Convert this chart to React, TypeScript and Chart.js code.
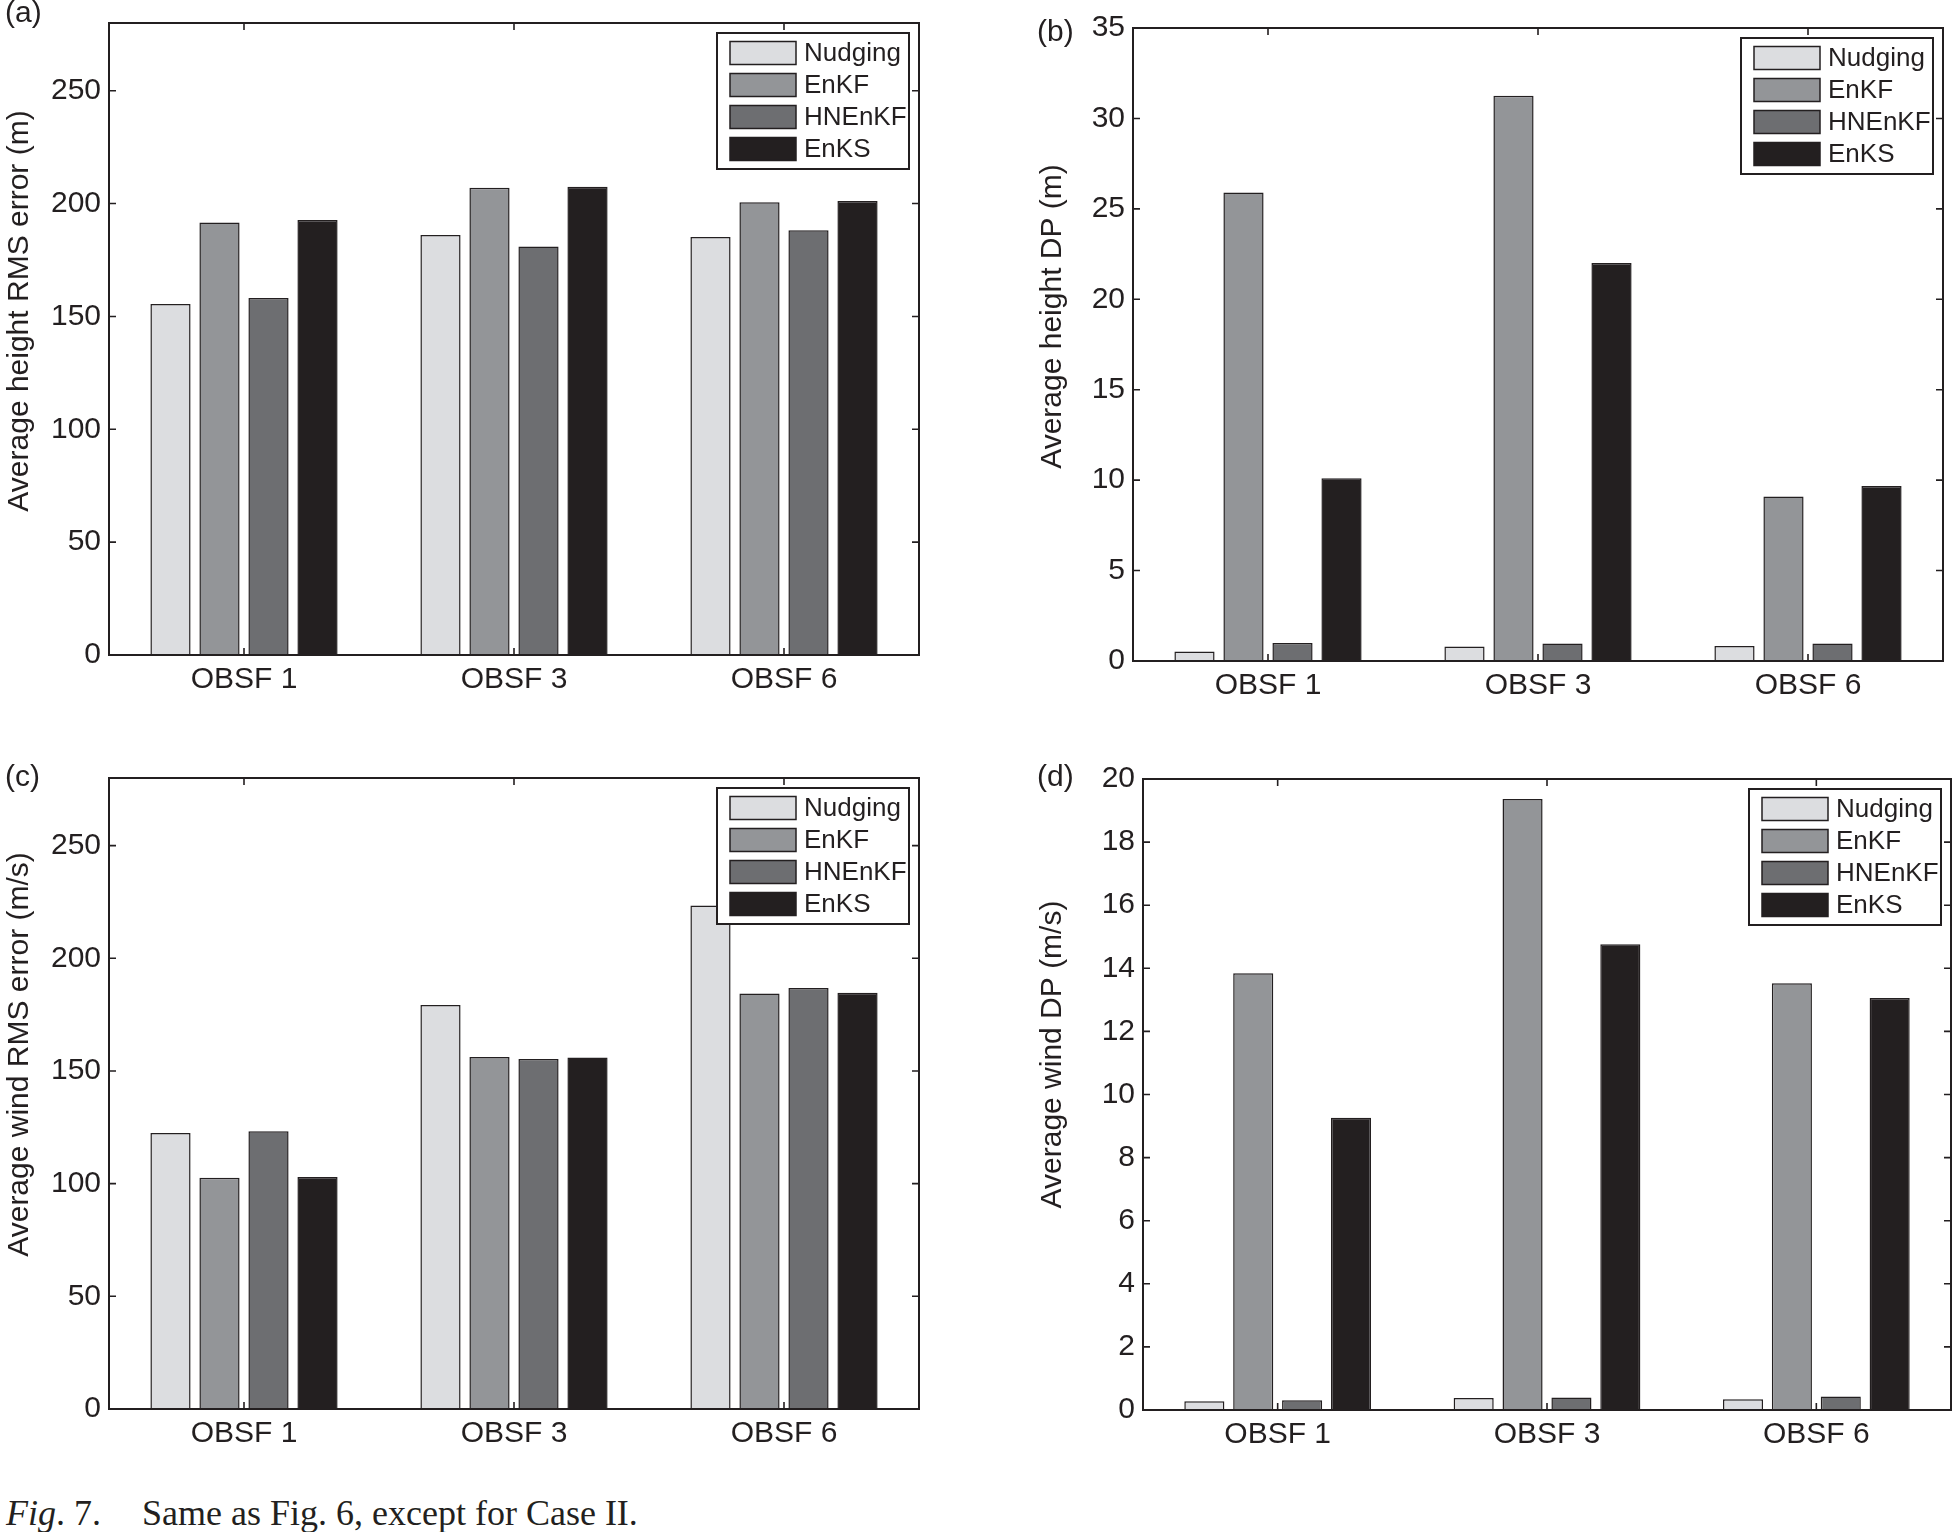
import React, { useEffect, useRef } from "react";
import { Chart, registerables } from "chart.js";

Chart.register(...registerables);

const INK = "#231f20";
const SANS = "'Liberation Sans', Arial, Helvetica, sans-serif";

const categories = ["OBSF 1", "OBSF 3", "OBSF 6"];
const seriesNames = ["Nudging", "EnKF", "HNEnKF", "EnKS"];
const seriesColors = ["#dcdde0", "#939598", "#6d6e71", "#231f20"];

// (a) average height RMS error (m)
const heightRmsNudging = [155.5, 186.1, 185.2];
const heightRmsEnkf = [191.6, 207.0, 200.6];
const heightRmsHnenkf = [158.2, 181.0, 188.2];
const heightRmsEnks = [192.7, 207.5, 201.1];
const heightRmsTicks = [0, 50, 100, 150, 200, 250];

// (b) average height DP (m)
const heightDpNudging = [0.52, 0.8, 0.83];
const heightDpEnkf = [25.9, 31.25, 9.1];
const heightDpHnenkf = [0.99, 0.97, 0.97];
const heightDpEnks = [10.1, 22.0, 9.68];
const heightDpTicks = [0, 5, 10, 15, 20, 25, 30, 35];

// (c) average wind RMS error (m/s)
const windRmsNudging = [122.5, 179.3, 223.4];
const windRmsEnkf = [102.6, 156.2, 184.4];
const windRmsHnenkf = [123.2, 155.3, 186.8];
const windRmsEnks = [103.0, 156.0, 184.7];
const windRmsTicks = [0, 50, 100, 150, 200, 250];

// (d) average wind DP (m/s)
const windDpNudging = [0.28, 0.38, 0.34];
const windDpEnkf = [13.84, 19.37, 13.53];
const windDpHnenkf = [0.31, 0.4, 0.43];
const windDpEnks = [9.26, 14.76, 13.06];
const windDpTicks = [0, 2, 4, 6, 8, 10, 12, 14, 16, 18, 20];

Chart.defaults.font.family = SANS;
Chart.defaults.color = INK;

// space kept around the plot box inside each canvas
const AXIS_W = 110;
const AXIS_H = 70;
const PAD_TOP = 20;
const PAD_RIGHT = 14;

// legend box drawn inside the axes, matlab style
const boxLegend = {
  id: "boxLegend",
  afterDatasetsDraw(chart: any) {
    const { ctx, chartArea } = chart;
    const w = 192;
    const h = 136;
    const x0 = chartArea.right - 10 - w;
    const y0 = chartArea.top + 10;
    ctx.save();
    ctx.fillStyle = "#ffffff";
    ctx.fillRect(x0, y0, w, h);
    ctx.lineWidth = 2;
    ctx.strokeStyle = INK;
    ctx.strokeRect(x0, y0, w, h);
    ctx.font = `26px ${SANS}`;
    ctx.textBaseline = "middle";
    chart.data.datasets.forEach((ds: any, i: number) => {
      const sy = y0 + 8.5 + i * 32;
      ctx.fillStyle = ds.backgroundColor;
      ctx.fillRect(x0 + 13, sy, 66, 23);
      ctx.lineWidth = 1.5;
      ctx.strokeStyle = INK;
      ctx.strokeRect(x0 + 13, sy, 66, 23);
      ctx.fillStyle = INK;
      ctx.fillText(ds.label, x0 + 87, sy + 12);
    });
    ctx.restore();
  },
};

// full frame, inward ticks and rotated y label
const matlabBox = {
  id: "matlabBox",
  afterDraw(chart: any, _args: any, opts: any) {
    const { ctx, chartArea, scales } = chart;
    const { left, right, top, bottom } = chartArea;
    ctx.save();
    ctx.strokeStyle = INK;
    ctx.lineWidth = 1.6;
    ctx.beginPath();
    scales.y.ticks.forEach((t: any) => {
      const y = scales.y.getPixelForValue(t.value);
      ctx.moveTo(left, y);
      ctx.lineTo(left + 7, y);
      ctx.moveTo(right, y);
      ctx.lineTo(right - 7, y);
    });
    categories.forEach((_, i) => {
      const x = scales.x.getPixelForValue(i);
      ctx.moveTo(x, bottom);
      ctx.lineTo(x, bottom - 7);
      ctx.moveTo(x, top);
      ctx.lineTo(x, top + 7);
    });
    ctx.stroke();
    ctx.lineWidth = 2;
    ctx.strokeRect(left, top, right - left, bottom - top);

    ctx.translate(left + opts.titleDx, (top + bottom) / 2 + opts.titleDy);
    ctx.rotate(-Math.PI / 2);
    ctx.font = `30px ${SANS}`;
    ctx.fillStyle = INK;
    ctx.textAlign = "center";
    ctx.textBaseline = "middle";
    ctx.fillText(opts.title, 0, 0);
    ctx.restore();
  },
};

type Box = { left: number; top: number; right: number; bottom: number };

type PanelProps = {
  box: Box;
  values: number[][];
  ticks: number[];
  yMax: number;
  yTitle: string;
  titleDx: number;
  titleDy: number;
};

const Panel = ({ box, values, ticks, yMax, yTitle, titleDx, titleDy }: PanelProps) => {
  const canvasRef = useRef<HTMLCanvasElement | null>(null);

  useEffect(() => {
    if (!canvasRef.current) return;
    const chart = new Chart(canvasRef.current, {
      type: "bar",
      data: {
        labels: categories,
        datasets: seriesNames.map((name, i) => ({
          label: name,
          data: values[i],
          backgroundColor: seriesColors[i],
          borderColor: INK,
          borderWidth: 1.5,
          categoryPercentage: 0.726,
          barPercentage: 0.82,
        })),
      },
      options: {
        animation: false,
        responsive: true,
        maintainAspectRatio: false,
        layout: { padding: { top: PAD_TOP, right: PAD_RIGHT, left: 0, bottom: 0 } },
        plugins: {
          legend: { display: false },
          tooltip: { enabled: false },
          matlabBox: { title: yTitle, titleDx, titleDy },
        } as any,
        scales: {
          x: {
            grid: { display: false, drawTicks: false },
            border: { display: false },
            ticks: { padding: 7, font: { size: 30 }, color: INK, maxRotation: 0, autoSkip: false },
            afterFit: (s: any) => {
              s.height = AXIS_H;
            },
          },
          y: {
            min: 0,
            max: yMax,
            grid: { display: false, drawTicks: false },
            border: { display: false },
            ticks: { padding: 8, font: { size: 30 }, color: INK },
            afterBuildTicks: (s: any) => {
              s.ticks = ticks.map((v) => ({ value: v }));
            },
            afterFit: (s: any) => {
              s.width = AXIS_W;
            },
          },
        },
      },
      plugins: [boxLegend, matlabBox],
    });
    return () => {
      chart.destroy();
    };
  }, []);

  const width = box.right - box.left + AXIS_W + PAD_RIGHT;
  const height = box.bottom - box.top + PAD_TOP + AXIS_H;

  return (
    <div
      style={{
        position: "absolute",
        left: box.left - AXIS_W,
        top: box.top - PAD_TOP,
        width,
        height,
      }}
    >
      <canvas ref={canvasRef} />
    </div>
  );
};

const labelStyle: React.CSSProperties = {
  position: "absolute",
  fontFamily: SANS,
  fontSize: 30,
  lineHeight: "30px",
  color: INK,
  whiteSpace: "nowrap",
};

const captionStyle: React.CSSProperties = {
  position: "absolute",
  top: 1495,
  fontFamily: "'Liberation Serif', 'Times New Roman', serif",
  fontSize: 36,
  lineHeight: "36px",
  color: INK,
  whiteSpace: "nowrap",
};

const App = () => {
  return (
    <div
      style={{
        position: "absolute",
        left: 0,
        top: 0,
        width: 1954,
        height: 1532,
        background: "#ffffff",
        overflow: "hidden",
      }}
    >
      <Panel
        box={{ left: 109, top: 17, right: 919, bottom: 655 }}
        values={[heightRmsNudging, heightRmsEnkf, heightRmsHnenkf, heightRmsEnks]}
        ticks={heightRmsTicks}
        yMax={280}
        yTitle="Average height RMS error (m)"
        titleDx={-89}
        titleDy={-28}
      />
      <Panel
        box={{ left: 1133, top: 22, right: 1943, bottom: 661 }}
        values={[heightDpNudging, heightDpEnkf, heightDpHnenkf, heightDpEnks]}
        ticks={heightDpTicks}
        yMax={35}
        yTitle="Average height DP (m)"
        titleDx={-80}
        titleDy={-28}
      />
      <Panel
        box={{ left: 109, top: 772, right: 919, bottom: 1409 }}
        values={[windRmsNudging, windRmsEnkf, windRmsHnenkf, windRmsEnks]}
        ticks={windRmsTicks}
        yMax={280}
        yTitle="Average wind RMS error (m/s)"
        titleDx={-89}
        titleDy={-39}
      />
      <Panel
        box={{ left: 1143, top: 773, right: 1951, bottom: 1410 }}
        values={[windDpNudging, windDpEnkf, windDpHnenkf, windDpEnks]}
        ticks={windDpTicks}
        yMax={20}
        yTitle="Average wind DP (m/s)"
        titleDx={-90}
        titleDy={-40}
      />

      <div style={{ ...labelStyle, left: 5, top: -3 }}>(a)</div>
      <div style={{ ...labelStyle, left: 1037, top: 16 }}>(b)</div>
      <div style={{ ...labelStyle, left: 5, top: 761 }}>(c)</div>
      <div style={{ ...labelStyle, left: 1037, top: 761 }}>(d)</div>

      <div style={{ ...captionStyle, left: 6 }}>
        <i>Fig</i>. 7.
      </div>
      <div style={{ ...captionStyle, left: 142 }}>Same as Fig. 6, except for Case II.</div>
    </div>
  );
};

export default App;
